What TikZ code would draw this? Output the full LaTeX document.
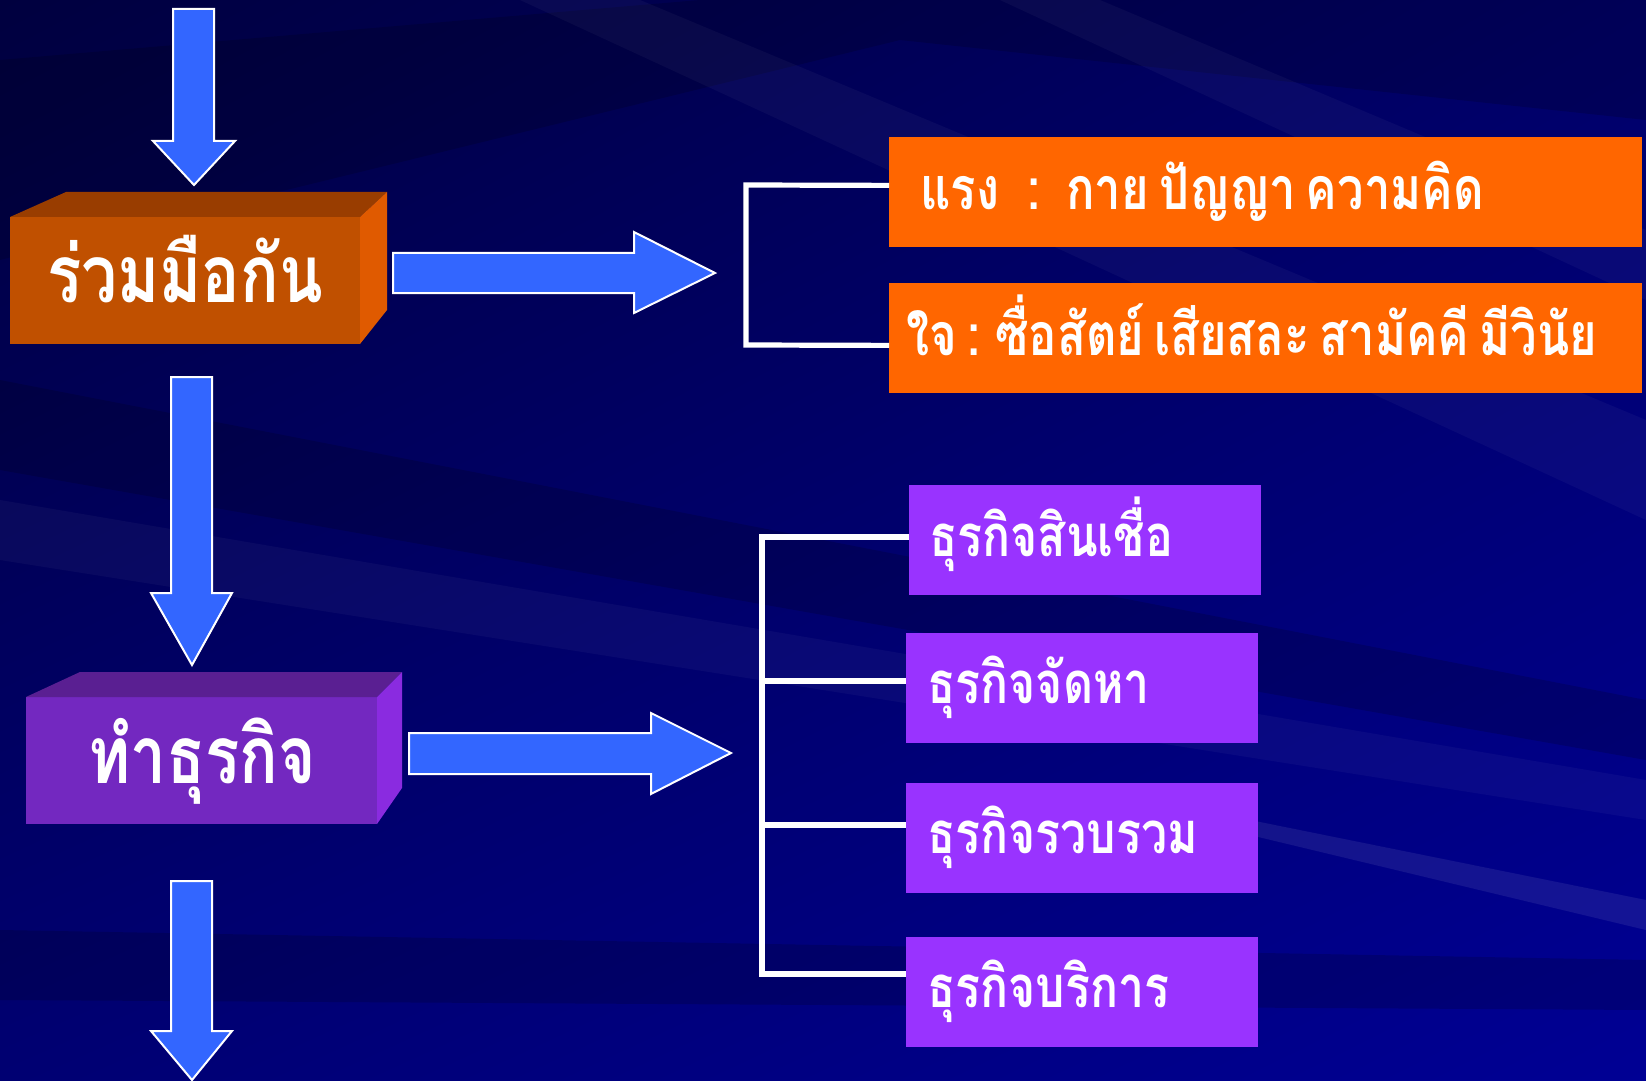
\documentclass[tikz,border=0pt]{standalone}
\usepackage{fontspec}
\newfontfamily\thaifont[Script=Thai,FakeStretch=0.8]{Loma}
\usetikzlibrary{calc,shadings}
\newcommand\mytightspace{\spaceskip=5pt plus 1pt\relax}
\definecolor{bgA}{HTML}{00003F}
\definecolor{bgB}{HTML}{000068}
\definecolor{bgC}{HTML}{000072}
\definecolor{bgD}{HTML}{000094}
\definecolor{arrowblue}{HTML}{3366FF}
\definecolor{orfront}{HTML}{C05000}
\definecolor{ortop}{HTML}{993D00}
\definecolor{orside}{HTML}{E05A00}
\definecolor{orbox}{HTML}{FF6600}
\definecolor{pufront}{HTML}{7328C0}
\definecolor{putop}{HTML}{5A1F92}
\definecolor{puside}{HTML}{8A2BE0}
\definecolor{pubox}{HTML}{9933FF}
\tikzset{
  blockarrow/.style={fill=arrowblue,draw=white,line width=1pt,line join=miter},
  bracketline/.style={draw=white,line width=2.6pt},
  obox/.style={fill=orbox,draw=none,minimum width=376.5pt,minimum height=55pt,inner sep=0pt,anchor=north west},
  pbox/.style={fill=pubox,draw=none,minimum width=176pt,minimum height=55pt,inner sep=0pt,anchor=north west},
  bigtext/.style={text=white,font=\thaifont\bfseries\fontsize{40}{40}\selectfont,inner sep=0pt},
  otext/.style={text=white,font=\thaifont\bfseries\fontsize{29.5}{30}\selectfont,inner sep=0pt,anchor=base west},
  ptext/.style={text=white,font=\thaifont\bfseries\fontsize{29}{29}\selectfont,inner sep=0pt,anchor=base west},
  streak/.style={fill=white,opacity=0.035},
  darkstreak/.style={fill=black,opacity=0.16}
}
\begin{document}
\begin{tikzpicture}[x=0.5pt,y=-0.5pt]
\useasboundingbox (0,0) rectangle (1646,1081);
% background
\shade[upper left=bgA,upper right=bgB,lower left=bgC,lower right=bgD] (0,0) rectangle (1646,1081);
\fill[darkstreak] (0,60) -- (700,0) -- (1646,0) -- (1646,120) -- (900,40) -- (0,260) -- cycle;
\fill[darkstreak] (0,380) -- (1646,700) -- (1646,760) -- (0,470) -- cycle;
\fill[darkstreak] (0,930) -- (1646,960) -- (1646,1010) -- (0,1000) -- cycle;
\fill[streak] (520,0) -- (640,0) -- (1646,420) -- (1646,520) -- cycle;
\fill[streak] (0,500) -- (1646,780) -- (1646,820) -- (0,560) -- cycle;
\fill[streak] (1000,0) -- (1100,0) -- (1646,230) -- (1646,300) -- cycle;
\fill[fill=white,opacity=0.08] (1250,820) -- (1646,900) -- (1646,930) -- (1250,835) -- cycle;

% down arrow 1
\draw[blockarrow] (173,9) -- (214,9) -- (214,141) -- (235,141) -- (194,185) -- (153,141) -- (173,141) -- cycle;

% 3D box orange
\fill[orfront] (10,217) rectangle (360,344);
\fill[ortop] (10,217) -- (66,192) -- (387,192) -- (360,217) -- cycle;
\fill[orside] (360,217) -- (387,192) -- (387,310) -- (360,344) -- cycle;
\node[bigtext,anchor=base] (ruam) at (185,302) {ร่วมมือกัน};

% right arrow 1
\draw[blockarrow] (393,253) -- (634,253) -- (634,232) -- (715,273) -- (634,313) -- (634,293) -- (393,293) -- cycle;

% orange boxes
\node[obox] (r1) at (889,137) {};
\node[obox] (r2) at (889,283) {};
\node[otext] (t1) at (920,210) {\mytightspace แรง\hspace{14pt}:\hspace{13pt}กาย ปัญญา ความคิด};
\node[otext] (t2) at (906,355) {\mytightspace ใจ : ซื่อสัตย์ เสียสละ สามัคคี มีวินัย};
\draw[bracketline] ([yshift=3.5pt]r1.west) -- (746,185) -- (746,345) -- ([yshift=-3.5pt]r2.west);

% down arrow 2
\draw[blockarrow] (171,377) -- (212,377) -- (212,593) -- (232,593) -- (192,665) -- (151,593) -- (171,593) -- cycle;

% 3D box purple
\fill[pufront] (26,697) rectangle (377,824);
\fill[putop] (26,697) -- (80,672) -- (402,672) -- (377,697) -- cycle;
\fill[puside] (377,697) -- (402,672) -- (402,788) -- (377,824) -- cycle;
\node[bigtext,anchor=base] (tham) at (202,783) {ทำธุรกิจ};

% right arrow 2
\draw[blockarrow] (409,733) -- (651,733) -- (651,713) -- (731,753) -- (651,794) -- (651,774) -- (409,774) -- cycle;

% purple boxes
\node[pbox] (p1) at (909,485) {};
\node[pbox] (p2) at (906,633) {};
\node[pbox] (p3) at (906,783) {};
\node[pbox] (p4) at (906,937) {};
\node[ptext] (q1) at (929,556) {ธุรกิจสินเชื่อ};
\node[ptext] (q2) at (927,703) {ธุรกิจจัดหา};
\node[ptext] (q3) at (927,853) {ธุรกิจรวบรวม};
\node[ptext] (q4) at (927,1007) {ธุรกิจบริการ};
\draw[bracketline] (p1.west |- 0,537) -- (762,537) -- (762,974) -- (p4.west |- 0,974);
\draw[bracketline] (762,681) -- (p2.west |- 0,681);
\draw[bracketline] (762,825) -- (p3.west |- 0,825);

% down arrow 3
\draw[blockarrow] (171,881) -- (212,881) -- (212,1031) -- (232,1031) -- (192,1080) -- (151,1031) -- (171,1031) -- cycle;
\end{tikzpicture}
\end{document}
